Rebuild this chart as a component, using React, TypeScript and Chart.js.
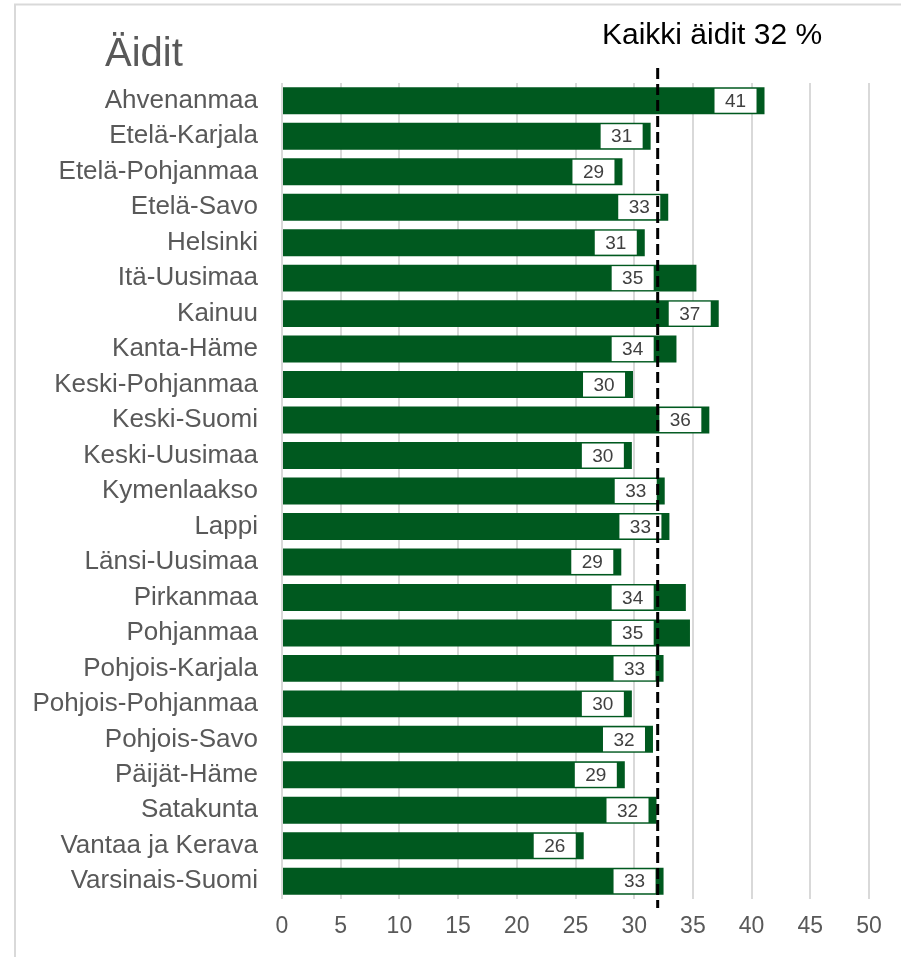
import React, { useEffect, useRef } from "react";
import { Chart, registerables } from "chart.js";

Chart.register(...registerables);

const regions: string[] = [
  "Ahvenanmaa",
  "Etelä-Karjala",
  "Etelä-Pohjanmaa",
  "Etelä-Savo",
  "Helsinki",
  "Itä-Uusimaa",
  "Kainuu",
  "Kanta-Häme",
  "Keski-Pohjanmaa",
  "Keski-Suomi",
  "Keski-Uusimaa",
  "Kymenlaakso",
  "Lappi",
  "Länsi-Uusimaa",
  "Pirkanmaa",
  "Pohjanmaa",
  "Pohjois-Karjala",
  "Pohjois-Pohjanmaa",
  "Pohjois-Savo",
  "Päijät-Häme",
  "Satakunta",
  "Vantaa ja Kerava",
  "Varsinais-Suomi",
];

const shares: number[] = [
  41.1, 31.4, 29.0, 32.9, 30.9, 35.3, 37.2, 33.6, 29.9, 36.4, 29.8, 32.6,
  33.0, 28.9, 34.4, 34.75, 32.5, 29.8, 31.6, 29.2, 31.9, 25.7, 32.5,
];

const allMothers = 32;
const chartTitle = "Äidit";
const referenceLabel = "Kaikki äidit 32 %";
const xTicks: number[] = [0, 5, 10, 15, 20, 25, 30, 35, 40, 45, 50];

const FONT = "'Liberation Sans', Arial, sans-serif";

const overlayPlugin = {
  id: "overlay",
  afterDatasetsDraw(chart: any) {
    const ctx = chart.ctx;
    const meta = chart.getDatasetMeta(0);
    const lineX = chart.scales.x.getPixelForValue(allMothers);
    ctx.save();
    ctx.font = `19px ${FONT}`;
    ctx.textAlign = "center";
    ctx.textBaseline = "middle";
    meta.data.forEach((bar: any, i: number) => {
      const h = bar.height;
      const w = 42;
      let right = bar.x - 8;
      // keep the label clear of the reference line
      if (right - w < lineX - 2 && right > lineX + 5) right = lineX - 4;
      const top = bar.y - h / 2 + 1.5;
      const bh = h - 3;
      ctx.fillStyle = "#ffffff";
      ctx.fillRect(right - w, top, w, bh);
      ctx.fillStyle = "#404040";
      ctx.fillText(String(Math.round(shares[i])), right - w / 2, bar.y + 1);
    });
    ctx.restore();
  },
  afterDraw(chart: any) {
    const ctx = chart.ctx;
    const xScale = chart.scales.x;
    const area = chart.chartArea;
    const x = xScale.getPixelForValue(allMothers);
    ctx.save();
    // dashed reference line
    ctx.strokeStyle = "#000000";
    ctx.lineWidth = 3;
    ctx.setLineDash([11, 5]);
    ctx.beginPath();
    ctx.moveTo(x, area.top - 15);
    ctx.lineTo(x, area.bottom + 9);
    ctx.stroke();
    ctx.setLineDash([]);
    // border (top & left)
    ctx.strokeStyle = "#d9d9d9";
    ctx.lineWidth = 2;
    ctx.beginPath();
    ctx.moveTo(15, chart.height);
    ctx.lineTo(15, 4.5);
    ctx.lineTo(chart.width, 4.5);
    ctx.stroke();
    // title
    ctx.fillStyle = "#595959";
    ctx.font = `40px ${FONT}`;
    ctx.textAlign = "left";
    ctx.textBaseline = "alphabetic";
    ctx.fillText(chartTitle, 105, 66);
    // annotation
    ctx.fillStyle = "#000000";
    ctx.font = `30px ${FONT}`;
    ctx.fillText(referenceLabel, 602, 44);
    ctx.restore();
  },
};

export default function App() {
  const ref = useRef<HTMLCanvasElement | null>(null);
  useEffect(() => {
    if (!ref.current) return;
    const chart = new Chart(ref.current, {
      type: "bar",
      data: {
        labels: regions,
        datasets: [
          {
            data: shares,
            backgroundColor: "#00591f",
            borderWidth: 0,
            barPercentage: 0.76,
            categoryPercentage: 1,
          },
        ],
      },
      options: {
        indexAxis: "y",
        animation: false,
        responsive: false,
        maintainAspectRatio: false,
        layout: { padding: { top: 83, right: 32, left: 0, bottom: 0 } },
        plugins: {
          legend: { display: false },
          tooltip: { enabled: false },
          title: { display: false },
        },
        scales: {
          x: {
            min: 0,
            max: 50,
            afterBuildTicks(scale: any) {
              scale.ticks = xTicks.map((v) => ({ value: v }));
            },
            afterFit(scale: any) {
              scale.height = 58;
            },
            grid: { color: "#d9d9d9", lineWidth: 2, drawTicks: false },
            border: { display: false },
            ticks: {
              color: "#595959",
              font: { family: FONT, size: 23 },
              padding: 14,
              autoSkip: false,
              maxRotation: 0,
            },
          },
          y: {
            afterFit(scale: any) {
              scale.width = 282;
            },
            grid: { display: false, drawTicks: false },
            border: { display: false },
            ticks: {
              color: "#595959",
              font: { family: FONT, size: 26 },
              padding: 24,
              autoSkip: false,
            },
          },
        },
      },
      plugins: [overlayPlugin],
    });
    return () => chart.destroy();
  }, []);
  return (
    <div style={{ position: "absolute", left: 0, top: 0, width: 901, height: 957, background: "#ffffff" }}>
      <canvas ref={ref} width={901} height={957} />
    </div>
  );
}
